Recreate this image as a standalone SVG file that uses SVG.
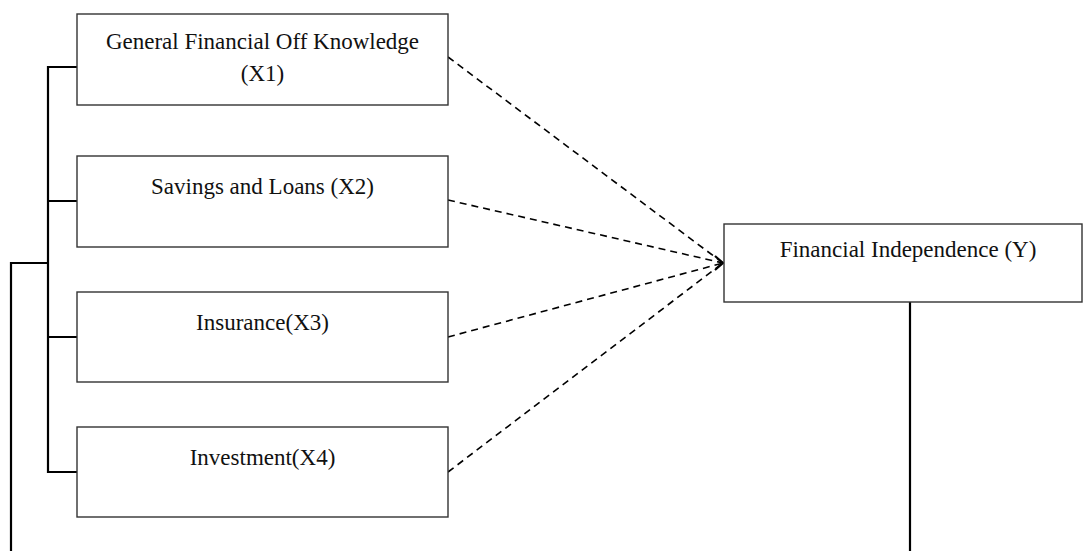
<svg xmlns="http://www.w3.org/2000/svg" width="1083" height="551" viewBox="0 0 1083 551">
<style>
.box{fill:#fff;stroke:#333;stroke-width:1.4}
.lbl{font-family:"Liberation Serif","Times New Roman",serif;font-size:23px;fill:#111;text-anchor:middle}
.solid{fill:none;stroke:#000;stroke-width:2.2}
.dash{fill:none;stroke:#000;stroke-width:1.6;stroke-dasharray:7 5}
</style>
<rect width="1083" height="551" fill="#fff"/>
<g id="connectors">
<path class="solid" d="M48 66V473M47 67H77M47 201H77M47 337H77M47 472H77"/>
<path class="solid" d="M11 551V263H49"/>
<path class="solid" d="M910 302V551"/>
<path class="dash" d="M448 57L723 263"/>
<path class="dash" d="M448 200L723 263"/>
<path class="dash" d="M448 337L723 263"/>
<path class="dash" d="M448 472L723 263"/>
<path class="solid" stroke-width="1.7" d="M715 256L723 263L715 270"/>
</g>
<g id="x1">
<rect class="box" x="77" y="14" width="371" height="91"/>
<text class="lbl" x="262.5" y="49">General Financial Off Knowledge</text>
<text class="lbl" x="262.5" y="81">(X1)</text>
</g>
<g id="x2">
<rect class="box" x="77" y="156" width="371" height="91"/>
<text class="lbl" x="262.5" y="194">Savings and Loans (X2)</text>
</g>
<g id="x3">
<rect class="box" x="77" y="292" width="371" height="90"/>
<text class="lbl" x="262.5" y="330">Insurance(X3)</text>
</g>
<g id="x4">
<rect class="box" x="77" y="427" width="371" height="90"/>
<text class="lbl" x="262.5" y="465">Investment(X4)</text>
</g>
<g id="y">
<rect class="box" x="724" y="224" width="358" height="78"/>
<text class="lbl" x="908" y="257">Financial Independence (Y)</text>
</g>
</svg>
